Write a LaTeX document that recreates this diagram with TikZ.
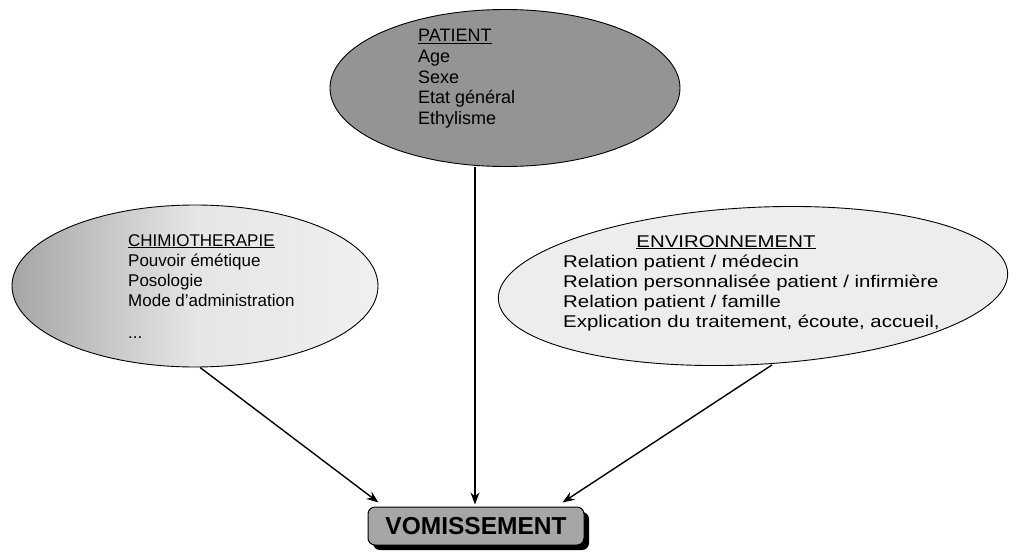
\documentclass[tikz,border=0pt]{standalone}
\usepackage{fontspec}
\setmainfont{Liberation Sans}
\newfontfamily\envfont[FakeStretch=1.2]{Liberation Sans}
\usetikzlibrary{shapes.geometric,arrows.meta,shadows,calc}
\begin{document}
\begin{tikzpicture}[x=1pt,y=-1pt,
  bubble/.style={ellipse,draw,line width=0.9pt,inner sep=0pt},
  lbl/.style={anchor=north west,align=left,inner sep=0pt,font=\fontsize{17}{20}\selectfont},
  arr/.style={-{Stealth[length=12pt,width=9pt]},line width=1.4pt},
]
\useasboundingbox (0,0) rectangle (1010,552);
% ellipses
\node[bubble,fill=black!42,minimum width=350pt,minimum height=157pt] (pat) at (505,88) {};
\node[bubble,left color=black!35,right color=black!6,middle color=black!10,minimum width=366pt,minimum height=162pt] (chim) at (195,286) {};
\node[bubble,fill=black!7,rotate=3,minimum width=510pt,minimum height=157pt] (env) at (753,286) {};
% texts
\node[lbl,font=\fontsize{18}{20.8}\selectfont] (pattxt) at (418,29) {\underline{PATIENT}\\Age\\Sexe\\Etat général\\Ethylisme};
\node[lbl] (chimtxt) at (128,234) {\underline{CHIMIOTHERAPIE}\\Pouvoir émétique\\Posologie\\Mode d'administration\\[12pt]...};
\node[inner sep=0pt,anchor=north,font=\envfont\fontsize{17}{20}\selectfont] (envtitle) at (726,235) {\underline{ENVIRONNEMENT}};
\node[lbl,font=\envfont\fontsize{17}{20}\selectfont] (envtxt) at (563,255) {Relation patient / médecin\\Relation personnalisée patient / infirmière\\Relation patient / famille\\Explication du traitement, écoute, accueil,};
% target box
\node[draw,rounded corners=7pt,fill=black!35,line width=1pt,minimum width=216pt,minimum height=38pt,inner sep=0pt,
  font=\bfseries\fontsize{24.5}{26}\selectfont,
  drop shadow={shadow xshift=5pt,shadow yshift=-5pt,fill=black,opacity=1}] (vom) at (476,526) {VOMISSEMENT};
% connectors
\coordinate (chimout) at ($(chim.south)+(5,0)$);
\coordinate (envout) at ($(env.south)+(15,0)$);
\coordinate (vomleft) at ($(vom.north west)+(11,-4)$);
\coordinate (vomright) at ($(vom.north east)+(-22,-4)$);
\coordinate (vomtop) at ($(vom.north)+(-1,-2)$);
\draw[arr] (chimout) -- (vomleft);
\draw[arr] (vomtop |- pat.south) -- (vomtop);
\draw[arr] (envout) -- (vomright);
\end{tikzpicture}
\end{document}
